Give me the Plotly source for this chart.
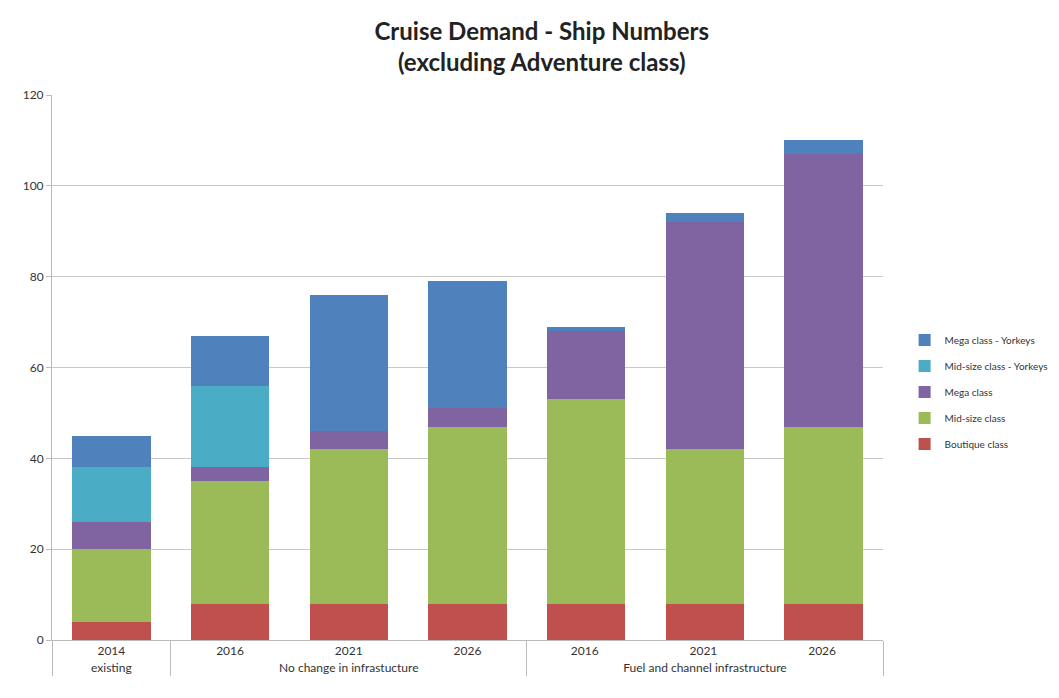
import plotly.graph_objects as go

groups = ["existing", "No change in infrastucture", "No change in infrastucture", "No change in infrastucture",
          "Fuel and channel infrastructure", "Fuel and channel infrastructure", "Fuel and channel infrastructure"]
years = ["2014", "2016", "2021", "2026", "2016 ", "2021 ", "2026 "]

boutique = [4, 8, 8, 8, 8, 8, 8]
mid_size = [16, 27, 34, 39, 45, 34, 39]
mega = [6, 3, 4, 4, 15, 50, 60]
mid_size_yorkeys = [12, 18, 0, 0, 0, 0, 0]
mega_yorkeys = [7, 11, 30, 28, 1, 2, 3]

series = [
    ("Boutique class", boutique, "#C0504D"),
    ("Mid-size class", mid_size, "#9BBB59"),
    ("Mega class", mega, "#8064A2"),
    ("Mid-size class - Yorkeys", mid_size_yorkeys, "#4BACC6"),
    ("Mega class - Yorkeys", mega_yorkeys, "#4F81BD"),
]

font_family = "Lato, 'Open Sans', sans-serif"

fig = go.Figure()
for i, (name, vals, color) in enumerate(series):
    fig.add_trace(go.Bar(x=[groups, years], y=vals, name=name, legendgroup=name,
                         legendrank=1000 - i * 10,
                         marker=dict(color=color, line=dict(width=0))))

fig.update_layout(
    barmode="stack",
    bargap=0.34,
    width=1059, height=698,
    paper_bgcolor="white", plot_bgcolor="white",
    margin=dict(l=44, r=184, t=87, b=66, autoexpand=False),
    title=dict(text="<b>Cruise Demand - Ship Numbers<br>(excluding Adventure class)</b>",
               x=0.504, xanchor="center", xref="container", y=0.954, yanchor="middle", yref="container",
               font=dict(family=font_family, size=24, color="#222")),
    font=dict(family=font_family, size=11, color="#333"),
    legend=dict(x=1.026, y=0.455, xanchor="left", yanchor="middle", traceorder="grouped",
                font=dict(size=10, color="#333"), bgcolor="rgba(0,0,0,0)", itemwidth=30,
                tracegroupgap=7),
    showlegend=True,
)
fig.update_yaxes(range=[0, 120], dtick=20, showgrid=True, gridcolor="#c8c8c8", gridwidth=1,
                 showline=True, linecolor="#bbbbbb", ticks="outside", ticklen=5, tickcolor="#bbbbbb",
                 zeroline=False, tickfont=dict(size=12, color="#333"), automargin=False)
fig.update_xaxes(showline=True, linecolor="#bbbbbb", showdividers=True, dividercolor="#bbbbbb",
                 dividerwidth=1, tickfont=dict(size=12, color="#333"), automargin=False)

fig.write_html("out.html")
